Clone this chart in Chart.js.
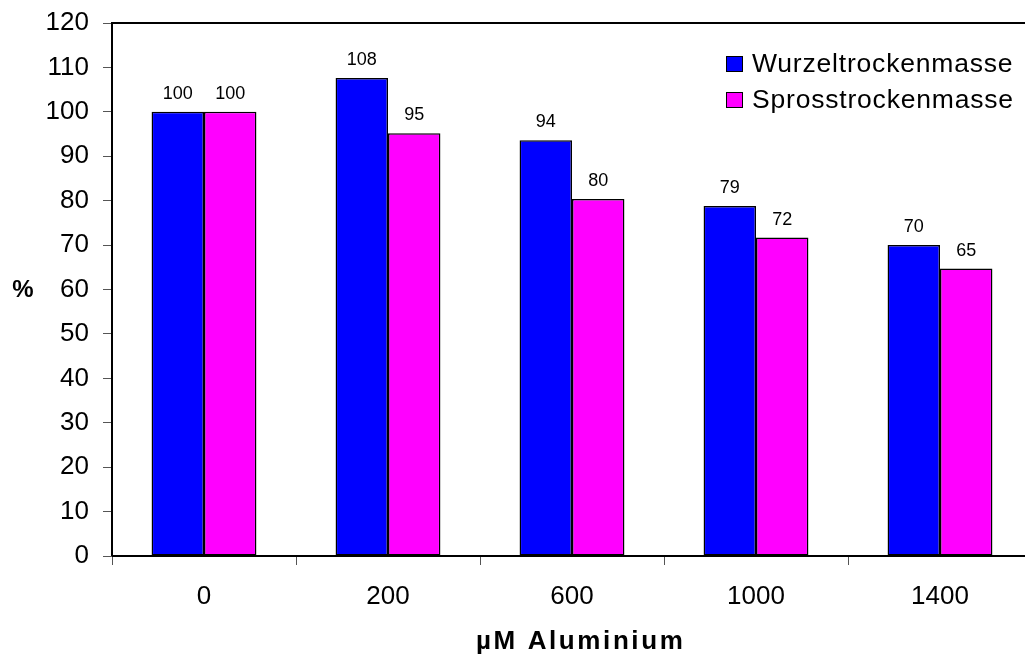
<!DOCTYPE html>
<html>
<head>
<meta charset="utf-8">
<script src="https://cdn.jsdelivr.net/npm/chart.js@4.4.0/dist/chart.umd.min.js"></script>
<style>
  html, body { margin: 0; padding: 0; background: #fff; overflow: hidden; }
  #wrap { width: 1040px; height: 657px; }
</style>
</head>
<body>
<div id="wrap"><canvas id="chart" width="1040" height="657"></canvas></div>
<script>
// Daten
const categories = ["0", "200", "600", "1000", "1400"];
const wurzel = [100, 107.6, 93.6, 78.8, 70.0];
const spross = [100, 95.2, 80.4, 71.7, 64.7];
const seriesNames = ["Wurzeltrockenmasse", "Sprosstrockenmasse"];
const yTicks = [0, 10, 20, 30, 40, 50, 60, 70, 80, 90, 100, 110, 120];

const FONT = "'Liberation Sans', Arial, sans-serif";

// Rahmen, Wertebeschriftung, Legende und Achsentitel
const extras = {
  id: "extras",
  afterDatasetsDraw(chart) {
    const ctx = chart.ctx;
    const a = chart.chartArea;
    ctx.save();
    ctx.strokeStyle = "#000";
    ctx.lineWidth = 2;
    ctx.beginPath();
    ctx.moveTo(a.left, a.bottom);
    ctx.lineTo(a.left, a.top);
    ctx.lineTo(a.right, a.top);
    ctx.lineTo(a.right, a.bottom);
    ctx.lineTo(a.left, a.bottom);
    ctx.stroke();

    // Werte über den Balken
    ctx.fillStyle = "#000";
    ctx.font = "18px " + FONT;
    ctx.textAlign = "center";
    ctx.textBaseline = "alphabetic";
    chart.data.datasets.forEach((ds, i) => {
      chart.getDatasetMeta(i).data.forEach((bar, j) => {
        ctx.fillText(String(Math.round(ds.data[j])), bar.x, bar.y - 13);
      });
    });

    // Legende
    ctx.font = "26.5px " + FONT;
    ctx.letterSpacing = "0.8px";
    ctx.textAlign = "left";
    ctx.textBaseline = "middle";
    chart.data.datasets.forEach((ds, i) => {
      const y = 63.5 + i * 36;
      ctx.fillStyle = ds.backgroundColor;
      ctx.fillRect(726, y - 7.5, 16, 15);
      ctx.strokeStyle = "#000";
      ctx.lineWidth = 1;
      ctx.strokeRect(726.5, y - 7, 16, 15);
      ctx.fillStyle = "#000";
      ctx.fillText(ds.label, 752, y + 1);
    });

    // Achsentitel
    ctx.letterSpacing = "0px";
    ctx.font = "bold 24px " + FONT;
    ctx.textAlign = "center";
    ctx.fillText("%", 23, 290);
    ctx.font = "bold 26px " + FONT;
    ctx.letterSpacing = "2.6px";
    ctx.textAlign = "left";
    ctx.fillText("\u00b5M Aluminium", 476, 642);
    ctx.restore();
  }
};

function noPad(scale) {
  scale.paddingTop = 0;
  scale.paddingBottom = 0;
  scale.paddingLeft = 0;
  scale.paddingRight = 0;
}

new Chart(document.getElementById("chart"), {
  type: "bar",
  data: {
    labels: categories,
    datasets: [
      {
        label: seriesNames[0],
        data: wurzel,
        backgroundColor: "#0000ff",
        borderColor: "#000",
        borderWidth: 1.5,
        borderSkipped: false,
      },
      {
        label: seriesNames[1],
        data: spross,
        backgroundColor: "#ff00ff",
        borderColor: "#000",
        borderWidth: 1.5,
        borderSkipped: false,
      },
    ],
  },
  options: {
    responsive: false,
    animation: false,
    layout: { padding: { left: 0, top: 23, right: 8, bottom: 0 } },
    categoryPercentage: 0.57,
    barPercentage: 1,
    plugins: {
      legend: { display: false },
      tooltip: { enabled: false },
    },
    scales: {
      x: {
        offset: true,
        grid: {
          offset: true,
          drawOnChartArea: false,
          drawTicks: true,
          tickLength: 9,
          color: "#555",
          lineWidth: 1,
        },
        border: { display: false },
        ticks: {
          color: "#000",
          font: { family: FONT, size: 26 },
          padding: 16,
          maxRotation: 0,
        },
        afterFit(scale) { scale.height = 101; noPad(scale); },
      },
      y: {
        min: 0,
        max: 120,
        afterBuildTicks(scale) { scale.ticks = yTicks.map((v) => ({ value: v })); },
        grid: {
          drawOnChartArea: false,
          drawTicks: true,
          tickLength: 9,
          color: "#555",
          lineWidth: 1,
        },
        border: { display: false },
        ticks: {
          color: "#000",
          font: { family: FONT, size: 26 },
          padding: 14,
        },
        afterFit(scale) { scale.width = 112; noPad(scale); },
      },
    },
  },
  plugins: [extras],
});
</script>
</body>
</html>
